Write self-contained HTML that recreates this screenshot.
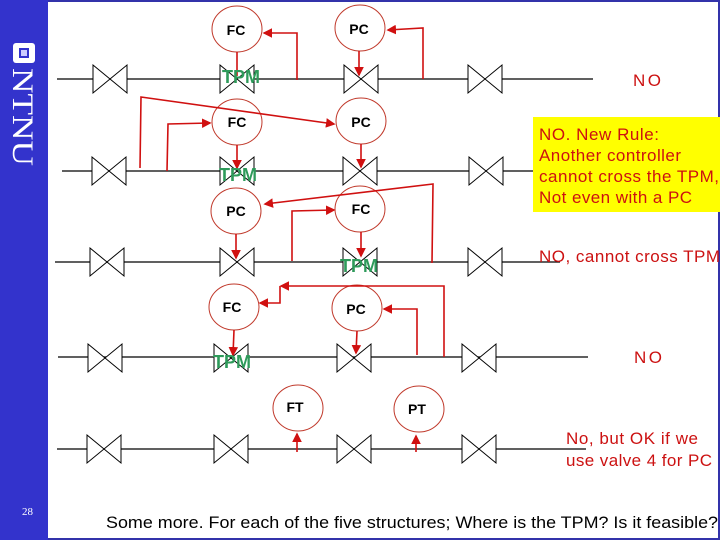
<!DOCTYPE html>
<html><head><meta charset="utf-8"><style>
html,body{margin:0;padding:0;background:#fff}
body{width:720px;height:540px;position:relative;overflow:hidden;font-family:"Liberation Sans",Arial,sans-serif}
</style></head><body>
<svg width="720" height="540" viewBox="0 0 720 540" xmlns="http://www.w3.org/2000/svg" style="position:absolute;left:0;top:0">
<defs>
<marker id="a" markerWidth="6" markerHeight="6" refX="5" refY="3" orient="auto" markerUnits="strokeWidth"><path d="M0,0 L6,3 L0,6 z" fill="#d01010"/></marker>
<g id="v"><path d="M0,-14 L34,14 L34,-14 L0,14 Z" fill="#fff" stroke="#000" stroke-width="1"/></g>
</defs>
<rect x="0" y="0" width="48" height="540" fill="#3333cc"/>
<rect x="48" y="0" width="672" height="2" fill="#3333aa"/>
<rect x="718" y="0" width="2" height="540" fill="#3333aa"/>
<rect x="48" y="538" width="672" height="2" fill="#3333aa"/>
<rect x="13" y="43" width="22" height="20" rx="3" fill="#fff"/>
<rect x="19" y="48" width="10" height="10" fill="#3333cc"/>
<rect x="21" y="50" width="6" height="6" fill="#ccccff"/>
<text transform="translate(13,68) rotate(90)" font-family="Liberation Serif,serif" font-size="30" fill="#fff" textLength="98" lengthAdjust="spacingAndGlyphs">NTNU</text>
<text x="22" y="515" font-size="11" fill="#fff" font-family="Liberation Serif,serif">28</text>

<g stroke="#000" stroke-width="1.2">
<line x1="57" y1="79" x2="593" y2="79"/>
<line x1="62" y1="171" x2="533" y2="171"/>
<line x1="55" y1="262" x2="560" y2="262"/>
<line x1="58" y1="357" x2="588" y2="357"/>
<line x1="57" y1="449" x2="586" y2="449"/>
</g>
<use href="#v" x="93" y="79"/><use href="#v" x="220" y="79"/><use href="#v" x="344" y="79"/><use href="#v" x="468" y="79"/>
<use href="#v" x="92" y="171"/><use href="#v" x="220" y="171"/><use href="#v" x="343" y="171"/><use href="#v" x="469" y="171"/>
<use href="#v" x="90" y="262"/><use href="#v" x="220" y="262"/><use href="#v" x="343" y="262"/><use href="#v" x="468" y="262"/>
<use href="#v" x="88" y="358"/><use href="#v" x="214" y="358"/><use href="#v" x="337" y="358"/><use href="#v" x="462" y="358"/>
<use href="#v" x="87" y="449"/><use href="#v" x="214" y="449"/><use href="#v" x="337" y="449"/><use href="#v" x="462" y="449"/>

<g fill="#fff" stroke="#c0392b" stroke-width="1">
<ellipse cx="237" cy="29" rx="25" ry="23"/><ellipse cx="360" cy="28" rx="25" ry="23"/>
<ellipse cx="237" cy="122" rx="25" ry="23"/><ellipse cx="361" cy="121" rx="25" ry="23"/>
<ellipse cx="236" cy="211" rx="25" ry="23"/><ellipse cx="360" cy="209" rx="25" ry="23"/>
<ellipse cx="234" cy="307" rx="25" ry="23"/><ellipse cx="357" cy="308" rx="25" ry="23"/>
<ellipse cx="298" cy="408" rx="25" ry="23"/><ellipse cx="419" cy="409" rx="25" ry="23"/>
</g>

<g stroke="#d01010" stroke-width="1.6" fill="none">
<line x1="237" y1="52" x2="237" y2="76"/>
<polyline points="297,80 297,33 264,33" marker-end="url(#a)"/>
<line x1="359" y1="51" x2="359" y2="75" marker-end="url(#a)"/>
<polyline points="423,79 423,28 388,30" marker-end="url(#a)"/>
<polyline points="140,168 141,97 334,124" marker-end="url(#a)"/>
<polyline points="167,171 168,124 210,123" marker-end="url(#a)"/>
<line x1="237" y1="145" x2="237" y2="168" marker-end="url(#a)"/>
<line x1="361" y1="144" x2="361" y2="167" marker-end="url(#a)"/>
<polyline points="432,263 433,184 265,204" marker-end="url(#a)"/>
<polyline points="292,261 292,211 334,210" marker-end="url(#a)"/>
<line x1="236" y1="234" x2="236" y2="258" marker-end="url(#a)"/>
<line x1="361" y1="232" x2="361" y2="256" marker-end="url(#a)"/>
<polyline points="444,357 444,286 281,286" marker-end="url(#a)"/>
<polyline points="280,286 280,303 260,303" marker-end="url(#a)"/>
<polyline points="417,355 417,309 384,309" marker-end="url(#a)"/>
<line x1="234" y1="330" x2="233" y2="355" marker-end="url(#a)"/>
<line x1="357" y1="331" x2="356" y2="353" marker-end="url(#a)"/>
<line x1="297" y1="452" x2="297" y2="434" marker-end="url(#a)"/>
<line x1="416" y1="452" x2="416" y2="436" marker-end="url(#a)"/>
</g>

<g font-weight="bold" font-size="14" fill="#000" text-anchor="middle">
<text x="236" y="35">FC</text><text x="359" y="34">PC</text>
<text x="237" y="127">FC</text><text x="361" y="127">PC</text>
<text x="236" y="216">PC</text><text x="361" y="214">FC</text>
<text x="232" y="312">FC</text><text x="356" y="314">PC</text>
<text x="295" y="412">FT</text><text x="417" y="414">PT</text>
</g>
<g font-weight="bold" font-size="18" fill="#2e9a5a" text-anchor="middle">
<text x="241" y="83">TPM</text><text x="238" y="181">TPM</text>
<text x="359" y="272">TPM</text><text x="232" y="368">TPM</text>
</g>
<rect x="533" y="117" width="187" height="95" fill="#ffff00"/>
<g font-size="17" fill="#cc1111" lengthAdjust="spacingAndGlyphs">
<text x="633" y="86" textLength="28">NO</text>
<text x="539" y="140" textLength="120">NO. New Rule:</text>
<text x="539" y="161" textLength="142">Another controller</text>
<text x="539" y="182" textLength="180">cannot cross the TPM,</text>
<text x="539" y="203" textLength="153">Not even with a PC</text>
<text x="539" y="262" textLength="181">NO, cannot cross TPM</text>
<text x="634" y="363" textLength="28">NO</text>
<text x="566" y="444" textLength="132">No, but OK if we</text>
<text x="566" y="466" textLength="146">use valve 4 for PC</text>
</g>
<text x="106" y="528" font-size="17" fill="#000" textLength="612" lengthAdjust="spacingAndGlyphs">Some more. For each of the five structures; Where is the TPM? Is it feasible?</text>
</svg>
</body></html>
